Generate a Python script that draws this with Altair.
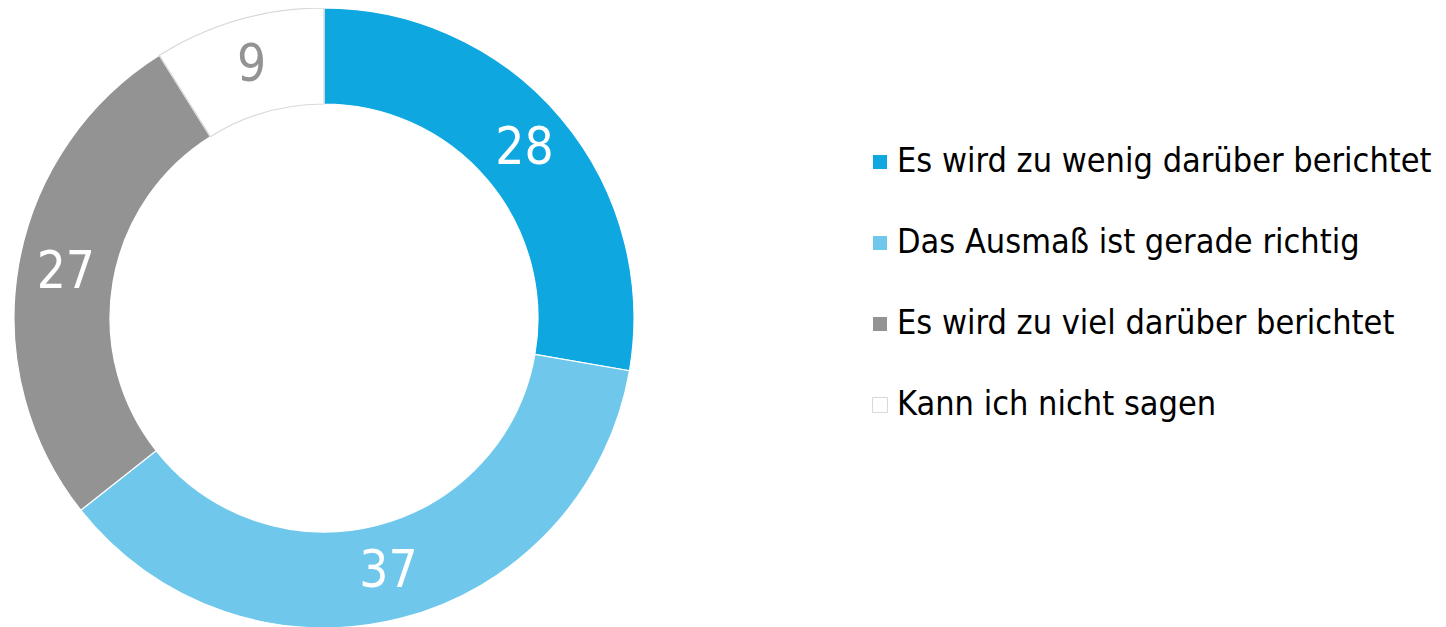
import altair as alt
import pandas as pd

categories = [
    "Es wird zu wenig darüber berichtet",
    "Das Ausmaß ist gerade richtig",
    "Es wird zu viel darüber berichtet",
    "Kann ich nicht sagen",
]
values = [28, 37, 27, 9]
fill_colors = ["#0EA7E0", "#6FC8EC", "#939393", "#FFFFFF"]
stroke_colors = ["#FFFFFF", "#FFFFFF", "#FFFFFF", "#D9D9D9"]
label_colors = ["#FFFFFF", "#FFFFFF", "#FFFFFF", "#939393"]

df = pd.DataFrame({
    "cat": categories,
    "value": values,
    "order": list(range(len(categories))),
    "lab": [str(v) for v in values],
    "labcolor": label_colors,
})

FONT = "DejaVu Sans Condensed"

base = alt.Chart(df).encode(
    theta=alt.Theta("value:Q", stack=True),
    order=alt.Order("order:Q"),
    x=alt.value(316),
    y=alt.value(310),
)

arcs = base.mark_arc(strokeWidth=1.2).encode(
    radius=alt.value(310),
    radius2=alt.value(214),
    color=alt.Color(
        "cat:N",
        scale=alt.Scale(domain=categories, range=fill_colors),
        sort=categories,
        legend=alt.Legend(
            title=None,
            orient="none",
            legendX=855,
            legendY=137,
            padding=0,
            symbolType="square",
            symbolSize=225,
            symbolStrokeWidth=1,
            labelFont=FONT,
            labelFontSize=34,
            labelColor="#000000",
            labelLimit=700,
            rowPadding=47,
            labelOffset=0,
        ),
    ),
    stroke=alt.Stroke(
        "cat:N",
        scale=alt.Scale(domain=categories, range=stroke_colors),
        sort=categories,
        legend=None,
    ),
)

labels = base.mark_text(font=FONT, fontSize=51, baseline="middle", align="center").encode(
    radius=alt.value(262),
    text="lab:N",
    color=alt.Color("labcolor:N", scale=None),
)

chart = alt.layer(arcs, labels).properties(
    width=1430,
    height=619,
    autosize=alt.AutoSizeParams(type="none"),
    padding=0,
).configure_view(stroke=None)

chart.save("out.html", embed_options={"renderer": "svg", "actions": False})
